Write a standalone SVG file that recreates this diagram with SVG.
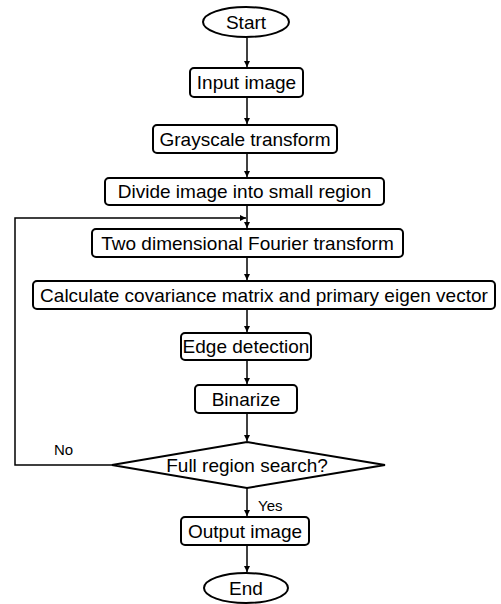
<svg xmlns="http://www.w3.org/2000/svg" width="501" height="604" viewBox="0 0 501 604">
  <style>
    .shape { fill: #ffffff; stroke: #000000; stroke-width: 2; }
    .label { font-family: "Liberation Sans", Arial, sans-serif; font-size: 19px; fill: #000000; text-anchor: middle; dominant-baseline: central; }
    .small { font-family: "Liberation Sans", Arial, sans-serif; font-size: 15px; fill: #000000; }
    .wire { fill: none; stroke: #000000; stroke-width: 1.5; }
  </style>
  <defs>
    <marker id="arrow" viewBox="0 0 10 10" refX="10" refY="5" markerWidth="6" markerHeight="6" orient="auto" markerUnits="userSpaceOnUse">
      <path d="M0,0 L10,5 L0,10 z" fill="#000000"/>
    </marker>
  </defs>
  <rect width="501" height="604" fill="#ffffff"/>

  <g id="connectors">
    <line class="wire" x1="247" y1="38" x2="247" y2="67" marker-end="url(#arrow)"/>
    <line class="wire" x1="247" y1="97" x2="247" y2="124" marker-end="url(#arrow)"/>
    <line class="wire" x1="247" y1="153" x2="247" y2="177" marker-end="url(#arrow)"/>
    <line class="wire" x1="247" y1="205" x2="247" y2="228" marker-end="url(#arrow)"/>
    <line class="wire" x1="247" y1="257" x2="247" y2="280" marker-end="url(#arrow)"/>
    <line class="wire" x1="247" y1="309" x2="247" y2="332" marker-end="url(#arrow)"/>
    <line class="wire" x1="247" y1="360" x2="247" y2="384" marker-end="url(#arrow)"/>
    <line class="wire" x1="247" y1="413" x2="247" y2="441" marker-end="url(#arrow)"/>
    <line class="wire" x1="247" y1="488" x2="247" y2="516" marker-end="url(#arrow)"/>
    <line class="wire" x1="247" y1="545" x2="247" y2="572" marker-end="url(#arrow)"/>
    <polyline class="wire" points="112,465 15,465 15,218 246,218" marker-end="url(#arrow)"/>
    <text class="small" x="54" y="455">No</text>
    <text class="small" x="258" y="511">Yes</text>
  </g>

  <g id="start">
    <ellipse class="shape" cx="246" cy="22" rx="43" ry="15"/>
    <text class="label" x="246" y="22">Start</text>
  </g>
  <g id="input-image">
    <rect class="shape" x="190" y="68" width="113" height="29" rx="4"/>
    <text class="label" x="246.5" y="82.5">Input image</text>
  </g>
  <g id="grayscale">
    <rect class="shape" x="153" y="125" width="184" height="28" rx="4"/>
    <text class="label" x="245" y="139">Grayscale transform</text>
  </g>
  <g id="divide">
    <rect class="shape" x="105" y="178" width="279" height="27" rx="4"/>
    <text class="label" x="244.5" y="191.5">Divide image into small region</text>
  </g>
  <g id="fourier">
    <rect class="shape" x="92" y="229" width="311" height="28" rx="4"/>
    <text class="label" x="247.5" y="243">Two dimensional Fourier transform</text>
  </g>
  <g id="covariance">
    <rect class="shape" x="33" y="281" width="462" height="28" rx="4"/>
    <text class="label" x="264" y="295">Calculate covariance matrix and primary eigen vector</text>
  </g>
  <g id="edge-detection">
    <rect class="shape" x="181" y="333" width="130" height="27" rx="4"/>
    <text class="label" x="246" y="346.5">Edge detection</text>
  </g>
  <g id="binarize">
    <rect class="shape" x="195" y="385" width="102" height="28" rx="4"/>
    <text class="label" x="246" y="399">Binarize</text>
  </g>
  <g id="full-region">
    <polygon class="shape" points="112,465 247,442 385,465 247,488"/>
    <text class="label" x="247" y="465">Full region search?</text>
  </g>
  <g id="output-image">
    <rect class="shape" x="181" y="517" width="128" height="28" rx="4"/>
    <text class="label" x="245" y="531">Output image</text>
  </g>
  <g id="end">
    <ellipse class="shape" cx="246" cy="588" rx="42" ry="15"/>
    <text class="label" x="246" y="588">End</text>
  </g>
</svg>
